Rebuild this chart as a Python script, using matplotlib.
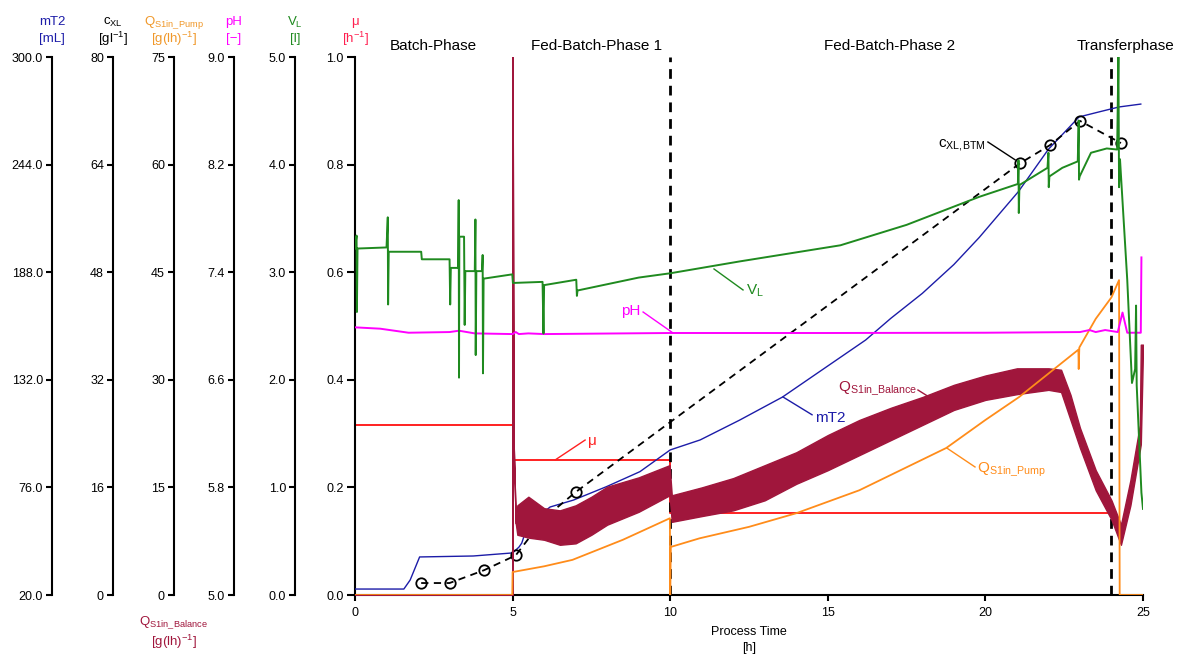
import numpy as np
import matplotlib
matplotlib.use('Agg')
import matplotlib.pyplot as plt
from matplotlib.ticker import FormatStrFormatter

plt.rcParams['font.family'] = ['Liberation Sans', 'DejaVu Sans']
plt.rcParams['mathtext.default'] = 'regular'

# phases
phase_names = ['Batch-Phase', 'Fed-Batch-Phase 1', 'Fed-Batch-Phase 2', 'Transferphase']
phase_label_t = [2.5, 7.65, 16.97, 24.43]
phase_bounds = [10, 24]

# V_L [l]
vl_t = [0.00, 0.05, 0.06, 0.08, 1.00, 1.04, 1.05, 1.07, 2.10, 2.12, 3.00, 3.02, 3.04,
        3.27, 3.29, 3.30, 3.31, 3.46, 3.48, 3.50, 3.80, 3.82, 3.83, 3.85, 4.03, 4.05,
        4.06, 4.08, 4.99, 5.01, 5.95, 5.98, 6.00, 7.02, 7.04, 7.06, 9.0, 10.0, 12.2,
        15.4, 17.5, 19.8, 21.03, 21.05, 21.06, 21.08, 21.97, 22.0, 22.01, 22.03, 22.44,
        22.93, 22.96, 22.97, 22.99, 23.35, 23.6, 23.85, 24.18, 24.22, 24.24, 24.27,
        24.5, 24.65, 24.75, 24.78, 24.8, 24.95, 25.0]
vl = [3.22, 3.34, 2.63, 3.22, 3.23, 3.51, 2.70, 3.19, 3.19, 3.12, 3.12, 2.70, 3.04,
      3.04, 3.67, 2.02, 3.33, 3.33, 2.51, 3.01, 3.01, 3.49, 2.23, 3.01, 3.01, 3.16,
      2.06, 2.94, 2.98, 2.90, 2.91, 2.43, 2.88, 2.93, 2.78, 2.83, 2.95, 2.99, 3.10,
      3.25, 3.44, 3.70, 3.82, 4.04, 3.55, 3.81, 3.97, 4.11, 3.79, 3.89, 3.97,
      4.03, 4.41, 3.86, 3.89, 4.11, 4.13, 4.15, 4.14, 5.00, 3.79, 4.05,
      2.93, 1.97, 2.10, 2.69, 1.95, 0.95, 0.80]

# pH [-]
ph_t = [0, 0.8, 1.7, 3.0, 3.3, 3.8, 5.0, 5.1, 5.2, 5.5, 6.0, 10.0, 15.0, 20.0, 23.0,
        23.3, 23.5, 23.8, 24.2, 24.35, 24.5, 24.93, 24.95]
ph = [6.99, 6.98, 6.95, 6.955, 6.965, 6.945, 6.94, 6.955, 6.94, 6.945, 6.94, 6.948,
      6.948, 6.95, 6.955, 6.97, 6.955, 6.97, 6.955, 7.10, 6.95, 6.95, 7.51]

# Q_S1in_Pump [g/(lh)]
pump_t = [0, 4.99, 5.0, 6.0, 6.9, 8.5, 9.99, 10.0, 10.02, 10.93, 12.5, 14.0, 16.0,
          18.76, 20.0, 21.07, 22.95, 22.96, 22.98, 23.5, 24.0, 24.24, 24.26, 25.0]
pump = [0, 0, 3.2, 4.0, 4.9, 7.7, 10.7, 0, 6.7, 7.9, 9.5, 11.4, 14.6,
        20.5, 24.4, 27.6, 34.2, 31.5, 34.5, 38.5, 41.5, 43.9, 0, 0]

# Q_S1in_Balance [g/(lh)], lower / upper edge of the noisy signal
bal_t = [0, 4.99, 5.0, 5.03, 5.1, 5.15, 5.5, 6.0, 6.5, 7.0, 7.5, 8.0, 9.0, 9.98, 10.05,
         11.0, 12.0, 13.0, 14.0, 15.0, 16.0, 17.0, 18.0, 19.0, 20.0, 21.0, 22.0, 22.4,
         22.7, 23.0, 23.5, 24.0, 24.3, 24.6, 24.9, 24.93, 25.0]
bal_lo = [0, 0, 75, 21.8, 10.0, 8.4, 8.0, 7.7, 7.0, 7.2, 8.4, 9.8, 11.6, 13.9, 10.2,
          11.0, 11.8, 13.2, 15.5, 17.4, 19.5, 21.6, 23.7, 25.8, 27.2, 28.0, 28.6, 28.3,
          24.4, 20.5, 14.6, 10.5, 7.0, 12.5, 20.2, 21.0, 34.2]
bal_hi = [0, 0, 75, 21.8, 10.0, 12.5, 13.7, 12.1, 11.8, 12.5, 13.7, 15.1, 16.4, 18.1, 13.9,
          15.0, 16.3, 18.1, 19.9, 22.3, 24.4, 26.1, 27.6, 29.3, 30.6, 31.6, 31.6, 31.4,
          27.9, 23.3, 17.4, 13.2, 9.8, 16.0, 23.7, 34.9, 34.9]

# mT2 [mL]
mt2_t = [0, 1.55, 1.75, 2.05, 3.75, 5.0, 5.2, 5.29, 5.45, 5.87, 6.19, 6.93, 7.98, 9.04,
         10.0, 10.95, 12.2, 13.56, 16.2, 17.0, 18.0, 19.0, 19.8, 21.05, 22.0, 22.97,
         23.6, 24.24, 24.93]
mt2 = [23.1, 23.1, 27.8, 39.8, 40.3, 41.9, 44.9, 47.0, 54.9, 61.6, 65.8, 69.4, 76.4, 84.2,
       95.5, 100.7, 111.0, 123.0, 152.7, 164.0, 177.0, 192.0, 206.0, 230.0, 252.0, 268.8,
       271.4, 274.0, 275.5]

# mu [1/h]
mu_t = [0, 5, 5, 10, 10, 24.15]
mu = [0.316, 0.316, 0.251, 0.251, 0.152, 0.152]

# c_XL (BTM samples) [g/l]
cxl_t = [2.1, 3.0, 4.1, 5.1, 6.0, 7.0, 21.1, 22.05, 23.0, 24.3]
cxl = [1.78, 1.78, 3.7, 5.9, 11.4, 15.3, 64.2, 66.9, 70.5, 67.2]

c_mt2 = '#1c1ca8'
c_vl = '#1f8a1f'
c_ph = '#ff00ff'
c_mu = '#ff2020'
c_pump = '#ff8c1a'
c_bal = '#a0163c'

fig = plt.figure(figsize=(11.84, 6.57), dpi=100)
ax = fig.add_axes([355 / 1184, 62 / 657, 788 / 1184, 538 / 657])

# main axis (mu)
ax.set_xlim(0, 25)
ax.set_ylim(0, 1)
ax.set_xticks([0, 5, 10, 15, 20, 25])
ax.set_yticks(np.linspace(0, 1, 6))
ax.yaxis.set_major_formatter(FormatStrFormatter('%.1f'))
for s in ['top', 'right']:
    ax.spines[s].set_visible(False)
for s in ['left', 'bottom']:
    ax.spines[s].set_linewidth(1.5)
ax.tick_params(axis='y', length=6, width=1.5, pad=2, labelsize=9)
ax.tick_params(axis='x', length=4, width=1.5, pad=5, labelsize=9)

ax.plot(mu_t, mu, color=c_mu, lw=1.4)
for b in phase_bounds:
    ax.axvline(b, color='black', lw=2, linestyle=(0, (3.5, 2.5)))
for name, t in zip(phase_names, phase_label_t):
    ax.text(t, 1.0204, name, transform=ax.get_xaxis_transform(), ha='center',
            va='center', fontsize=11)


def side_axis(pos, lo, hi, fmt):
    a = ax.twinx()
    a.set_ylim(lo, hi)
    a.set_yticks(np.linspace(lo, hi, 6))
    a.yaxis.set_major_formatter(FormatStrFormatter(fmt))
    a.yaxis.set_ticks_position('left')
    for s in ['right', 'top', 'bottom']:
        a.spines[s].set_visible(False)
    a.spines['left'].set_visible(True)
    a.spines['left'].set_position(('axes', pos))
    a.spines['left'].set_linewidth(1.5)
    a.tick_params(axis='y', length=4.5, width=1.5, pad=2, labelsize=9)
    return a


ax_mt2 = side_axis(-0.3845, 20, 300, '%.1f')
ax_cxl = side_axis(-0.3071, 0, 80, '%d')
ax_q = side_axis(-0.2297, 0, 75, '%d')
ax_ph = side_axis(-0.1536, 5, 9, '%.1f')
ax_vl = side_axis(-0.0761, 0, 5, '%.1f')

# curves
ax_q.plot(pump_t, pump, color=c_pump, lw=1.3)
ax_mt2.plot(mt2_t, mt2, color=c_mt2, lw=1.0)
ax_q.fill_between(bal_t, bal_lo, bal_hi, facecolor=c_bal, edgecolor=c_bal, lw=1.0)
ax_ph.plot(ph_t, ph, color=c_ph, lw=1.4)
ax_vl.plot(vl_t, vl, color=c_vl, lw=1.4)
ax_cxl.plot(cxl_t, cxl, color='black', lw=1.3, linestyle=(0, (4, 3)), marker='o',
            markersize=7.5, markerfacecolor='none', markeredgewidth=1.3)

# headers above the axes
headers = [(-0.3845, 'mT2', '[mL]', c_mt2),
           (-0.3071, '$c_{XL}$', '[gl$^{-1}$]', 'black'),
           (-0.2297, '$Q_{S1in\\_Pump}$', '[g(lh)$^{-1}$]', '#f0982a'),
           (-0.1536, 'pH', '[\u2212]', c_ph),
           (-0.0761, '$V_L$', '[l]', c_vl),
           (0.0, '\u03bc', '[h$^{-1}$]', '#ff2050')]
for x, l1, l2, c in headers:
    ax.text(x, 1.065, l1, transform=ax.transAxes, ha='center', va='center', fontsize=9.5, color=c)
    ax.text(x, 1.0335, l2, transform=ax.transAxes, ha='center', va='center', fontsize=9.5, color=c)
ax.text(-0.2297, -0.052, '$Q_{S1in\\_Balance}$', transform=ax.transAxes, ha='center',
        va='center', fontsize=9.5, color=c_bal)
ax.text(-0.2297, -0.0874, '[g(lh)$^{-1}$]', transform=ax.transAxes, ha='center',
        va='center', fontsize=9.5, color=c_bal)
ax.text(0.5, -0.0688, 'Process Time', transform=ax.transAxes, ha='center', va='center', fontsize=9)
ax.text(0.5, -0.0985, '[h]', transform=ax.transAxes, ha='center', va='center', fontsize=9)

# curve labels with leader lines (main axis coordinates)
labels = [('$V_L$', c_vl, (11.39, 0.606), (12.31, 0.567), (12.4, 0.565), 'left'),
          ('pH', c_ph, (10.09, 0.487), (9.14, 0.526), (9.07, 0.528), 'right'),
          ('mT2', c_mt2, (13.58, 0.368), (14.5, 0.335), (14.59, 0.329), 'left'),
          ('$Q_{S1in\\_Balance}$', c_bal, (18.46, 0.359), (17.86, 0.381), (17.84, 0.383), 'right'),
          ('$Q_{S1in\\_Pump}$', c_pump, (18.78, 0.273), (19.67, 0.238), (19.73, 0.232), 'left'),
          ('\u03bc', c_mu, (6.35, 0.251), (7.30, 0.288), (7.39, 0.286), 'left'),
          ('$c_{XL,\\!BTM}$', 'black', (20.94, 0.809), (20.08, 0.842), (20.02, 0.836), 'right')]
for txt, c, p0, p1, pt, ha in labels:
    ax.plot([p0[0], p1[0]], [p0[1], p1[1]], color=c, lw=1.0)
    ax.text(pt[0], pt[1], txt, color=c, fontsize=11, ha=ha, va='center')

fig.savefig('out.png', dpi=100)
